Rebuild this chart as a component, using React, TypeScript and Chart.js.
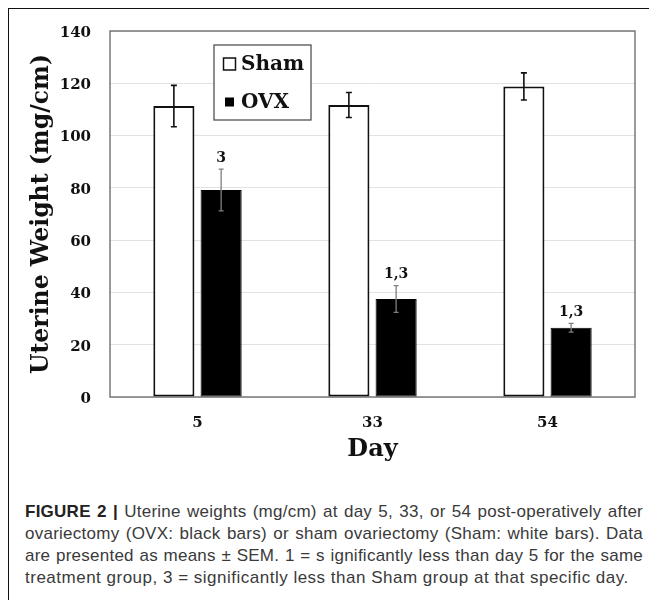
import React, { useEffect, useRef } from "react";
import { Chart, registerables } from "chart.js";

Chart.register(...registerables);

const days = ["5", "33", "54"];
const seriesNames = ["Sham", "OVX"];
const shamMeans = [111.3, 111.7, 118.8];
const shamSem = [7.9, 4.8, 5.2];
const ovxMeans = [79.2, 37.5, 26.5];
const ovxSem = [8.0, 5.1, 1.7];
const ovxMarks = ["3", "1,3", "1,3"];
const yMin = 0;
const yMax = 140;
const yStep = 20;
const yTitle = "Uterine Weight (mg/cm)";
const xTitle = "Day";
const captionLines = [
  "Uterine weights (mg/cm) at day 5, 33, or 54 post-operatively after",
  "ovariectomy (OVX: black bars) or sham ovariectomy (Sham: white bars). Data",
  "are presented as means \u00b1 SEM. 1 = s ignificantly less than day 5 for the same",
  "treatment group, 3 = significantly less than Sham group at that specific day.",
];
const captionLead = "FIGURE 2 | ";

const SERIF = "'DejaVu Serif', serif";

const errorBarPlugin = {
  id: "errorBars",
  afterDatasetsDraw(chart: any) {
    const ctx = chart.ctx;
    const y = chart.scales.y;
    const sems = [shamSem, ovxSem];
    const styles = [
      { color: "#111111", width: 1.6, cap: 3 },
      { color: "#7f7f7f", width: 1.3, cap: 2.5 },
    ];
    ctx.save();
    chart.data.datasets.forEach((ds: any, di: number) => {
      const meta = chart.getDatasetMeta(di);
      const st = styles[di];
      meta.data.forEach((bar: any, i: number) => {
        const v = ds.data[i];
        const e = sems[di][i];
        const yt = y.getPixelForValue(v + e);
        const yb = y.getPixelForValue(v - e);
        ctx.strokeStyle = st.color;
        ctx.lineWidth = st.width;
        ctx.beginPath();
        ctx.moveTo(bar.x, yt);
        ctx.lineTo(bar.x, yb);
        ctx.moveTo(bar.x - st.cap, yt);
        ctx.lineTo(bar.x + st.cap, yt);
        ctx.moveTo(bar.x - st.cap, yb);
        ctx.lineTo(bar.x + st.cap, yb);
        ctx.stroke();
        if (di === 1) {
          ctx.fillStyle = "#111111";
          ctx.font = `bold 14px ${SERIF}`;
          ctx.textAlign = "center";
          ctx.textBaseline = "middle";
          ctx.fillText(ovxMarks[i], bar.x, yt - 11);
        }
      });
    });
    ctx.restore();
  },
};

const frameLegendPlugin = {
  id: "frameLegend",
  beforeDatasetsDraw(chart: any) {
    const { ctx, chartArea: a } = chart;
    ctx.save();
    ctx.strokeStyle = "#6f6f6f";
    ctx.lineWidth = 1.4;
    ctx.strokeRect(a.left, a.top, a.right - a.left, a.bottom - a.top);
    ctx.restore();
  },
  afterDraw(chart: any) {
    const { ctx, chartArea: a } = chart;
    const bx = a.left + 104;
    const by = a.top + 14;
    const bw = 97;
    const bh = 75;
    ctx.save();
    ctx.fillStyle = "#ffffff";
    ctx.fillRect(bx, by, bw, bh);
    ctx.strokeStyle = "#444444";
    ctx.lineWidth = 1.2;
    ctx.strokeRect(bx, by, bw, bh);
    const rows = [by + 19, by + 57];
    chart.data.datasets.forEach((ds: any, i: number) => {
      const cy = rows[i];
      const cx = bx + 15.5;
      ctx.lineWidth = 1.5;
      ctx.strokeStyle = "#111111";
      if (i === 0) {
        ctx.fillStyle = "#ffffff";
        ctx.fillRect(cx - 6, cy - 6, 12, 12);
        ctx.strokeRect(cx - 6, cy - 6, 12, 12);
      } else {
        ctx.fillStyle = "#000000";
        ctx.fillRect(cx - 4.5, cy - 4.5, 9, 9);
      }
      ctx.fillStyle = "#111111";
      ctx.font = `bold 20px ${SERIF}`;
      ctx.textAlign = "left";
      ctx.textBaseline = "middle";
      ctx.fillText(ds.label, bx + 27, cy + 1);
    });
    ctx.restore();
  },
};

export default function App() {
  const ref = useRef<HTMLCanvasElement | null>(null);

  useEffect(() => {
    if (!ref.current) return;
    const chart = new Chart(ref.current, {
      type: "bar",
      data: {
        labels: days,
        datasets: [
          {
            label: seriesNames[0],
            data: shamMeans,
            backgroundColor: "#ffffff",
            borderColor: "#111111",
            borderWidth: 2,
            borderSkipped: false,
            categoryPercentage: 0.54,
            barPercentage: 0.87,
          },
          {
            label: seriesNames[1],
            data: ovxMeans,
            backgroundColor: "#000000",
            borderColor: "#000000",
            borderWidth: 1,
            borderSkipped: false,
            categoryPercentage: 0.54,
            barPercentage: 0.87,
          },
        ],
      },
      options: {
        animation: false,
        responsive: true,
        maintainAspectRatio: false,
        layout: { padding: { top: 23, right: 22, left: 0, bottom: 0 } },
        plugins: {
          legend: { display: false },
          tooltip: { enabled: false },
        },
        scales: {
          x: {
            grid: { display: false, drawTicks: false },
            border: { display: false },
            ticks: {
              color: "#111111",
              padding: 17.5,
              font: { family: SERIF, size: 15, weight: "bold" },
            },
            title: {
              display: true,
              text: xTitle,
              color: "#111111",
              padding: { top: 0, bottom: 4 },
              font: { family: SERIF, size: 24, weight: "bold" },
            },
            afterFit: (s: any) => {
              s.height = 71;
              s.paddingLeft = 0;
              s.paddingRight = 0;
            },
          },
          y: {
            min: yMin,
            max: yMax,
            grid: { color: "#e2e2e2", lineWidth: 1, drawTicks: false },
            border: { display: false },
            ticks: {
              stepSize: yStep,
              color: "#111111",
              padding: 19,
              labelOffset: 2,
              font: { family: SERIF, size: 15, weight: "bold" },
            },
            title: {
              display: true,
              text: yTitle,
              color: "#111111",
              padding: { top: 20, bottom: 0 },
              font: { family: SERIF, size: 23.5, weight: "bold" },
            },
            afterFit: (s: any) => {
              s.width = 102;
              s.paddingTop = 0;
              s.paddingBottom = 0;
            },
          },
        },
      },
      plugins: [frameLegendPlugin, errorBarPlugin],
    });
    return () => chart.destroy();
  }, []);

  const lastIdx = captionLines.length - 1;

  return (
    <div style={{ position: "relative", width: 649, height: 592 }}>
      <div
        style={{
          position: "absolute",
          left: 0,
          top: 0,
          width: 649,
          height: 592,
          borderTop: "1.5px solid #111",
          borderLeft: "1.5px solid #111",
          boxSizing: "border-box",
        }}
      />
      <div style={{ position: "absolute", left: 0, top: 0, width: 649, height: 460 }}>
        <canvas ref={ref} />
      </div>
      <div
        style={{
          position: "absolute",
          left: 17,
          top: 493,
          width: 618,
          fontFamily: "'Liberation Sans', Arial, sans-serif",
          fontSize: 17,
          lineHeight: "22px",
          color: "#3a3a3a",
        }}
      >
        {captionLines.map((line, i) => (
          <div
            key={i}
            style={{
              textAlign: i < lastIdx ? "justify" : "left",
              textAlignLast: i < lastIdx ? "justify" : "left",
              letterSpacing: i < lastIdx ? "0.25px" : "0.5px",
              whiteSpace: i < lastIdx ? "normal" : "nowrap",
              width: 618,
            }}
          >
            {i === 0 ? <span style={{ fontWeight: 700, color: "#222" }}>{captionLead}</span> : null}
            {line}
          </div>
        ))}
      </div>
    </div>
  );
}
